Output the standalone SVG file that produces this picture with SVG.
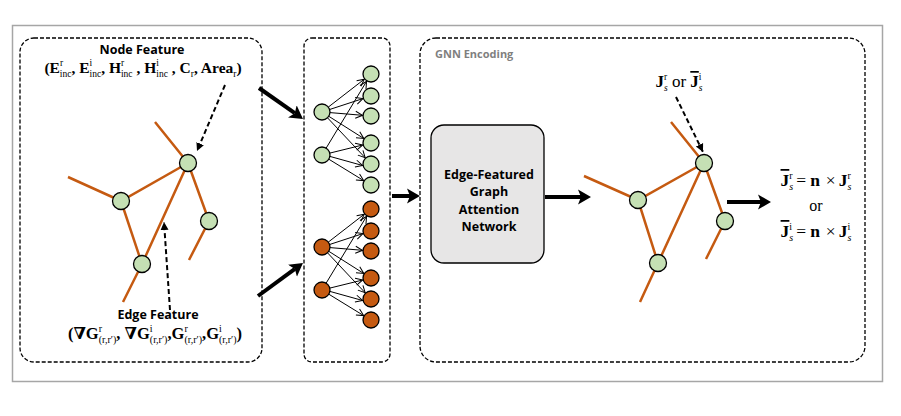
<svg xmlns="http://www.w3.org/2000/svg" width="901" height="416" viewBox="0 0 901 416">
<style>
.panel{fill:none;stroke:#000;stroke-width:1.3;stroke-dasharray:4 2}
.edge{stroke:#c55a11;stroke-width:2.5;fill:none;stroke-linecap:butt}
.gn{fill:#c5e0b4;stroke:#000;stroke-width:1.3}
.on{fill:#c55a11;stroke:#000;stroke-width:1.3}
.thin{stroke:#000;stroke-width:1;fill:none;marker-end:url(#open)}
.big{stroke:#000;stroke-width:4;fill:none;marker-end:url(#bighead)}
.dash{stroke:#000;stroke-width:2;stroke-dasharray:5 3;fill:none;marker-end:url(#dhead)}
.m{font-family:"Liberation Serif","DejaVu Serif",serif;font-weight:bold;font-size:15.5px;fill:#000}
.s{font-weight:normal;font-size:9.5px}
.it{font-style:italic}
.nw{font-weight:normal}
.ov{text-decoration:overline}
.t{font-family:"Open Sans","Liberation Sans",sans-serif;font-weight:bold;font-size:12.5px;fill:#000}
</style>
<defs>
<marker id="open" markerUnits="userSpaceOnUse" markerWidth="10" markerHeight="10" viewBox="-1 -5 10 10" refX="7" refY="0" orient="auto">
<path d="M0,-3.5 L7,0 L0,3.5" fill="none" stroke="#000" stroke-width="1"/>
</marker>
<marker id="bighead" markerUnits="userSpaceOnUse" markerWidth="16" markerHeight="18" viewBox="0 -9 16 18" refX="3" refY="0" orient="auto">
<path d="M0,-7.5 L13,0 L0,7.5 L3,0 z" fill="#000"/>
</marker>
<marker id="dhead" markerUnits="userSpaceOnUse" markerWidth="10" markerHeight="10" viewBox="0 -5 10 10" refX="8" refY="0" orient="auto">
<path d="M0,-4 L8,0 L0,4 z" fill="#000"/>
</marker>
</defs>

<rect x="12.5" y="25.5" width="870" height="356" fill="none" stroke="#a6a6a6" stroke-width="1.5"/>

<g id="panel-features">
<rect class="panel" x="20" y="38" width="242" height="324" rx="14"/>
<text class="t" x="142" y="54" text-anchor="middle">Node Feature</text>
<text class="m" x="143" y="73" text-anchor="middle">(E<tspan class="s" baseline-shift="7">r</tspan><tspan class="s" dx="-3.2" baseline-shift="-4">inc</tspan>, E<tspan class="s" baseline-shift="7">i</tspan><tspan class="s" dx="-2.6" baseline-shift="-4">inc</tspan>, H<tspan class="s" baseline-shift="7">r</tspan><tspan class="s" dx="-3.2" baseline-shift="-4">inc</tspan> , H<tspan class="s" baseline-shift="7">i</tspan><tspan class="s" dx="-2.6" baseline-shift="-4">inc</tspan> , C<tspan class="s" baseline-shift="-4">r</tspan>, Area<tspan class="s" baseline-shift="-4">r</tspan>)</text>
<text class="t" x="158" y="318.5" text-anchor="middle">Edge Feature</text>
<text class="m" x="155" y="339" text-anchor="middle" style="font-size:16.5px">(∇G<tspan class="s" baseline-shift="7" style="font-size:10px">r</tspan><tspan class="s" dx="-3.3" baseline-shift="-4" style="font-size:10px">(r,r′)</tspan>, ∇G<tspan class="s" baseline-shift="7" style="font-size:10px">i</tspan><tspan class="s" dx="-2.8" baseline-shift="-4" style="font-size:10px">(r,r′)</tspan>,G<tspan class="s" baseline-shift="7" style="font-size:10px">r</tspan><tspan class="s" dx="-3.3" baseline-shift="-4" style="font-size:10px">(r,r′)</tspan>,G<tspan class="s" baseline-shift="7" style="font-size:10px">i</tspan><tspan class="s" dx="-2.8" baseline-shift="-4" style="font-size:10px">(r,r′)</tspan>)</text>
</g>

<g id="graph-left">
<path class="edge" d="M155,122 L188,163 M188,163 L121,201 L68,177 M121,201 L142,264 L123,302 M188,163 L142,264 M188,163 L209,221 L189,260"/>
<circle id="n-a" class="gn" cx="188" cy="163" r="8.5"/>
<circle id="n-b" class="gn" cx="121" cy="201" r="8.5"/>
<circle id="n-c" class="gn" cx="142" cy="264" r="8.5"/>
<circle id="n-d" class="gn" cx="209" cy="221" r="8.5"/>
</g>

<g id="panel-bipartite">
<rect class="panel" x="304" y="38" width="86" height="324" rx="8"/>
<g id="green-set">
<circle class="gn" cx="322" cy="112" r="8"/>
<circle class="gn" cx="322" cy="155" r="8"/>
<circle class="gn" cx="371" cy="74" r="8"/>
<circle class="gn" cx="371" cy="96" r="8"/>
<circle class="gn" cx="371" cy="116" r="8"/>
<circle class="gn" cx="371" cy="143" r="8"/>
<circle class="gn" cx="371" cy="164" r="8"/>
<circle class="gn" cx="371" cy="185" r="8"/>
</g>
<g id="orange-set">
<circle class="on" cx="322" cy="247" r="8"/>
<circle class="on" cx="322" cy="290" r="8"/>
<circle class="on" cx="371" cy="209" r="8"/>
<circle class="on" cx="371" cy="231" r="8"/>
<circle class="on" cx="371" cy="251" r="8"/>
<circle class="on" cx="371" cy="278" r="8"/>
<circle class="on" cx="371" cy="299" r="8"/>
<circle class="on" cx="371" cy="320" r="8"/>
</g>
</g>

<g id="panel-gnn">
<rect class="panel" x="420" y="38" width="445" height="324" rx="16"/>
<text x="435" y="58" font-family="'Open Sans','Liberation Sans',sans-serif" font-weight="bold" font-size="11" fill="#7f7f7f">GNN Encoding</text>
</g>

<g id="node-egat">
<rect x="431" y="125" width="113" height="138" rx="13" fill="#e7e6e6" stroke="#000" stroke-width="1.3"/>
<text class="t" x="489" y="179" text-anchor="middle" font-size="13">Edge-Featured</text>
<text class="t" x="489" y="196" text-anchor="middle" font-size="13">Graph</text>
<text class="t" x="489" y="214" text-anchor="middle" font-size="13">Attention</text>
<text class="t" x="489" y="231" text-anchor="middle" font-size="13">Network</text>
</g>

<g id="graph-right">
<path class="edge" d="M671,122 L704,163 M704,163 L638,200 L584,176 M638,200 L658,263 L640,302 M704,163 L658,263 M704,163 L725,221 L706,259"/>
<circle class="gn" cx="704" cy="163" r="8.5"/>
<circle class="gn" cx="638" cy="200" r="8.5"/>
<circle class="gn" cx="658" cy="263" r="8.5"/>
<circle class="gn" cx="725" cy="221" r="8.5"/>
<text class="m" x="679" y="87" text-anchor="middle" style="font-size:17px">J<tspan class="s" baseline-shift="7">r</tspan><tspan class="s it" dx="-3.2" baseline-shift="-4">s</tspan><tspan class="nw">  or </tspan><tspan class="ov">J</tspan><tspan class="s" baseline-shift="7">i</tspan><tspan class="s it" dx="-2.6" baseline-shift="-4">s</tspan></text>
</g>

<g id="node-output">
<text class="m" x="816" y="186" text-anchor="middle" style="font-size:17.5px"><tspan class="ov">J</tspan><tspan class="s" baseline-shift="7" style="font-size:10px">r</tspan><tspan class="s it" dx="-3.3" baseline-shift="-4" style="font-size:10px">s</tspan><tspan class="nw" dx="3">=</tspan><tspan dx="4">n</tspan><tspan class="nw" dx="6">×</tspan><tspan dx="3">J</tspan><tspan class="s" baseline-shift="7" style="font-size:10px">r</tspan><tspan class="s it" dx="-3.3" baseline-shift="-4" style="font-size:10px">s</tspan></text>
<text class="m nw" x="816" y="211" text-anchor="middle" style="font-size:16px;font-weight:normal">or</text>
<text class="m" x="816" y="237" text-anchor="middle" style="font-size:17.5px"><tspan class="ov">J</tspan><tspan class="s" baseline-shift="7" style="font-size:10px">i</tspan><tspan class="s it" dx="-2.8" baseline-shift="-4" style="font-size:10px">s</tspan><tspan class="nw" dx="3">=</tspan><tspan dx="4">n</tspan><tspan class="nw" dx="6">×</tspan><tspan dx="3">J</tspan><tspan class="s" baseline-shift="7" style="font-size:10px">i</tspan><tspan class="s it" dx="-2.8" baseline-shift="-4" style="font-size:10px">s</tspan></text>
</g>

<g id="connectors">
<line class="thin" x1="328.3" y1="107.1" x2="364.3" y2="79.2"/>
<line class="thin" x1="329.6" y1="109.5" x2="362.9" y2="98.6"/>
<line class="thin" x1="330" y1="112.6" x2="362.5" y2="115.3"/>
<line class="thin" x1="328.8" y1="116.3" x2="363.8" y2="138.5"/>
<line class="thin" x1="327.5" y1="117.8" x2="365.2" y2="157.8"/>
<line class="thin" x1="326.1" y1="148.2" x2="366.6" y2="81.3"/>
<line class="thin" x1="329.8" y1="153.1" x2="362.7" y2="145"/>
<line class="thin" x1="329.9" y1="156.4" x2="362.6" y2="165.5"/>
<line class="thin" x1="328.8" y1="159.2" x2="363.7" y2="180.6"/>
<line class="thin" x1="328.3" y1="242.1" x2="364.3" y2="214.2"/>
<line class="thin" x1="329.6" y1="244.5" x2="362.9" y2="233.6"/>
<line class="thin" x1="330" y1="247.6" x2="362.5" y2="250.3"/>
<line class="thin" x1="328.8" y1="251.3" x2="363.8" y2="273.5"/>
<line class="thin" x1="327.5" y1="252.8" x2="365.2" y2="292.8"/>
<line class="thin" x1="326.1" y1="283.2" x2="366.6" y2="216.3"/>
<line class="thin" x1="329.8" y1="288.1" x2="362.7" y2="280"/>
<line class="thin" x1="329.9" y1="291.4" x2="362.6" y2="300.5"/>
<line class="thin" x1="328.8" y1="294.2" x2="363.7" y2="315.6"/>
<line class="big" x1="259" y1="88" x2="294.8" y2="113.2"/>
<line class="big" x1="258" y1="296" x2="294.9" y2="268.9"/>
<line class="big" x1="392" y1="196" x2="410" y2="196"/>
<line class="big" x1="545" y1="197" x2="581" y2="197"/>
<line class="big" x1="727" y1="202" x2="761" y2="202"/>
<line class="dash" x1="225" y1="85" x2="197" y2="151"/>
<line class="dash" x1="170" y1="310" x2="164" y2="222"/>
<line class="dash" x1="676" y1="97" x2="703" y2="152" stroke-width="1.5"/>
</g>
</svg>
